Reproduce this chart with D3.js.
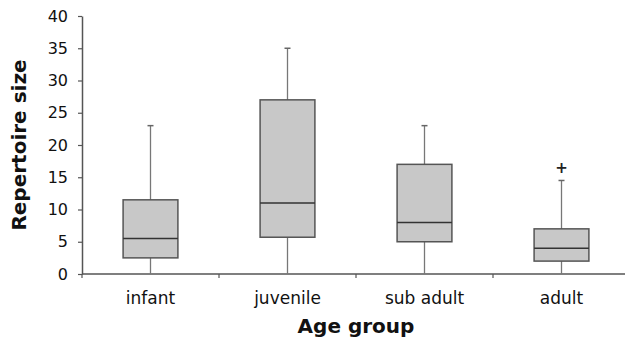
<!DOCTYPE html>
<html>
<head>
<meta charset="utf-8">
<script src="https://cdn.jsdelivr.net/npm/d3@7"></script>
<style>
  body { margin: 0; background: #fff; }
  svg { display: block; font-family: "DejaVu Sans", Verdana, sans-serif; }
</style>
</head>
<body>
<div id="chart"></div>
<script>
// box plot data
const groups = ["infant", "juvenile", "sub adult", "adult"];
const whiskerLow = [0, 0, 0, 0];
const q1 = [2.5, 5.7, 5, 2];
const medians = [5.5, 11, 8, 4];
const q3 = [11.5, 27, 17, 7];
const whiskerHigh = [23, 35, 23, 14.5];
const outliers = [[], [], [], [16.4]];
const yTicks = [0, 5, 10, 15, 20, 25, 30, 35, 40];

const width = 625, height = 338;
var margin = {top: 16, right: -5, bottom: 64, left: 82};

const svg = d3.select("#chart").append("svg")
    .attr("width", width)
    .attr("height", height);

const x = d3.scaleBand()
    .domain(groups)
    .range([margin.left, width - margin.right])
    .padding(0);

const y = d3.scaleLinear()
    .domain([0, 40])
    .range([height - margin.bottom, margin.top]);

const boxW = x.bandwidth() * 0.4;

const data = groups.map((g, i) => ({
    group: g, lo: whiskerLow[i], q1: q1[i], med: medians[i],
    q3: q3[i], hi: whiskerHigh[i], out: outliers[i]
}));

// y axis
const yAxis = svg.append("g")
    .attr("transform", "translate(" + margin.left + ",0)")
    .call(d3.axisLeft(y).tickValues(yTicks).tickSize(4).tickSizeOuter(0).tickPadding(10));
yAxis.attr("font-family", null);
yAxis.select(".domain").attr("stroke", "#555").attr("stroke-width", 1.5);
yAxis.selectAll(".tick line").attr("stroke", "#555").attr("stroke-width", 1.2);
yAxis.selectAll(".tick text")
    .attr("fill", "#111")
    .style("font-size", "16px");

// x axis line + ticks on band edges
svg.append("line")
    .attr("x1", margin.left).attr("x2", width)
    .attr("y1", y(0)).attr("y2", y(0))
    .attr("stroke", "#555").attr("stroke-width", 1.5);

svg.append("g").selectAll("line")
    .data(groups)
    .enter().append("line")
    .attr("x1", d => x(d)).attr("x2", d => x(d))
    .attr("y1", y(0)).attr("y2", y(0) + 4)
    .attr("stroke", "#555").attr("stroke-width", 1.2);

svg.append("g").selectAll("text")
    .data(groups)
    .enter().append("text")
    .attr("x", d => x(d) + x.bandwidth() / 2)
    .attr("y", y(0) + 30)
    .attr("text-anchor", "middle")
    .attr("fill", "#111")
    .style("font-size", "17px")
    .text(d => d);

// boxes
const box = svg.append("g").selectAll("g")
    .data(data)
    .enter().append("g")
    .attr("transform", d => "translate(" + (x(d.group) + x.bandwidth() / 2) + ",0)");

box.append("line")
    .attr("x1", 0).attr("x2", 0)
    .attr("y1", d => y(d.lo)).attr("y2", d => y(d.hi))
    .attr("stroke", "#777").attr("stroke-width", 1.3);

box.append("line")
    .attr("x1", -3).attr("x2", 3)
    .attr("y1", d => y(d.hi)).attr("y2", d => y(d.hi))
    .attr("stroke", "#666").attr("stroke-width", 1.5);

box.append("rect")
    .attr("x", -boxW / 2)
    .attr("width", boxW)
    .attr("y", d => y(d.q3))
    .attr("height", d => y(d.q1) - y(d.q3))
    .attr("fill", "#c8c8c8")
    .attr("stroke", "#555")
    .attr("stroke-width", 1.5);

box.append("line")
    .attr("x1", -boxW / 2).attr("x2", boxW / 2)
    .attr("y1", d => y(d.med)).attr("y2", d => y(d.med))
    .attr("stroke", "#333").attr("stroke-width", 1.5);

box.selectAll("text.out")
    .data(d => d.out)
    .enter().append("text")
    .attr("class", "out")
    .attr("x", 0)
    .attr("y", v => y(v))
    .attr("dy", "0.35em")
    .attr("text-anchor", "middle")
    .attr("fill", "#222")
    .style("font-size", "15px")
    .style("font-weight", "bold")
    .text("+");

// axis titles
svg.append("text")
    .attr("text-anchor", "middle")
    .attr("transform", "translate(26," + ((margin.top + y(0)) / 2) + ") rotate(-90)")
    .style("font-size", "20px")
    .style("font-weight", "bold")
    .attr("fill", "#111")
    .text("Repertoire size");

svg.append("text")
    .attr("text-anchor", "middle")
    .attr("x", (margin.left + width - margin.right) / 2)
    .attr("y", 333)
    .style("font-size", "20px")
    .style("font-weight", "bold")
    .attr("fill", "#111")
    .text("Age group");
</script>
</body>
</html>
